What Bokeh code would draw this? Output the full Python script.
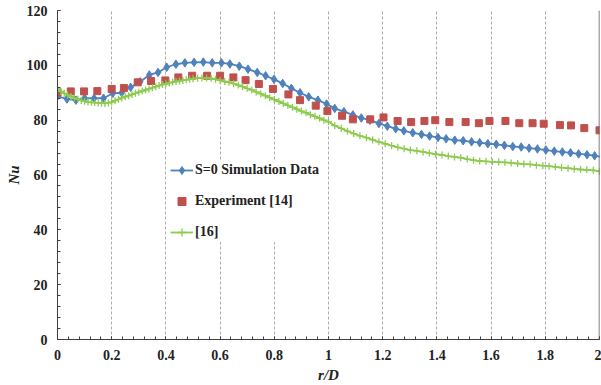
from bokeh.plotting import figure
from bokeh.models import (SingleIntervalTicker, CustomJSTickFormatter, Span,
                          Legend, LegendItem, Range1d)
from bokeh.embed import file_html
from bokeh.resources import INLINE

# ---- data -------------------------------------------------------------
sim_r = [0, 0.035, 0.068, 0.10, 0.135, 0.17, 0.204, 0.237, 0.27, 0.305, 0.339,
         0.371, 0.403, 0.437, 0.47, 0.504, 0.538, 0.571, 0.605, 0.636, 0.671,
         0.703, 0.737, 0.768, 0.799, 0.831, 0.863, 0.895, 0.927, 0.961, 0.993,
         1.023, 1.057, 1.09, 1.121, 1.153, 1.186, 1.217, 1.248, 1.278, 1.311,
         1.343, 1.373, 1.404, 1.434, 1.466, 1.497, 1.528, 1.558, 1.588, 1.619,
         1.649, 1.68, 1.711, 1.74, 1.771, 1.802, 1.833, 1.863, 1.893, 1.923,
         1.954, 1.982, 2.012]
sim_nu = [88.8, 87.7, 87.3, 88.0, 88.0, 88.0, 89.8, 90.0, 92.0, 94.0, 96.5,
          97.4, 99.3, 100.4, 100.9, 101.1, 101.2, 100.9, 100.9, 100.5, 99.7,
          98.6, 97.4, 96.2, 94.9, 93.4, 91.6, 90.0, 88.5, 87.3, 85.9,
          84.3, 83.1, 81.9, 80.8, 80.0, 78.8, 77.8, 76.9, 76.1, 75.4,
          74.8, 74.2, 73.7, 73.2, 72.7, 72.5, 72.1, 71.8, 71.4, 71.2,
          70.8, 70.4, 70.2, 69.8, 69.5, 69.1, 68.7, 68.4, 68.1, 67.7,
          67.4, 67.0, 66.6]

exp_r = [0, 0.049, 0.098, 0.147, 0.2, 0.245, 0.296, 0.345, 0.398, 0.446, 0.497,
         0.552, 0.6, 0.649, 0.694, 0.743, 0.795, 0.852, 0.895, 0.953, 0.996,
         1.05, 1.09, 1.154, 1.203, 1.255, 1.305, 1.354, 1.394, 1.446, 1.506,
         1.555, 1.594, 1.653, 1.704, 1.753, 1.794, 1.854, 1.895, 1.944, 2.0]
exp_nu = [90.1, 90.5, 90.5, 90.6, 91.4, 91.7, 93.8, 94.3, 94.5, 95.6, 96.2,
          96.2, 96.2, 95.6, 94.6, 93.2, 91.4, 89.4, 87.3, 85.3, 83.3,
          81.6, 80.3, 80.3, 81.0, 79.7, 79.3, 79.7, 80.0, 79.3, 79.3,
          78.9, 79.7, 79.7, 78.9, 78.9, 78.7, 78.2, 78.1, 77.1, 76.3]

ref_r = [0, 0.0125, 0.025, 0.0375, 0.05, 0.0625, 0.075, 0.0875, 0.1, 0.1125,
         0.125, 0.1375, 0.15, 0.1625, 0.175, 0.1875, 0.2, 0.2125, 0.225, 0.2375,
         0.25, 0.2625, 0.275, 0.2875, 0.3, 0.3125, 0.325, 0.3375, 0.35, 0.3625,
         0.375, 0.3875, 0.4, 0.4125, 0.425, 0.4375, 0.45, 0.4625, 0.475, 0.4875,
         0.5, 0.517, 0.533, 0.55, 0.567, 0.583, 0.6, 0.617, 0.633, 0.65, 0.667,
         0.683, 0.7, 0.717, 0.733, 0.75, 0.767, 0.783, 0.8, 0.817, 0.833, 0.85,
         0.867, 0.883, 0.9, 0.917, 0.933, 0.95, 0.967, 0.983, 1.0,
         1.023, 1.047, 1.07, 1.093, 1.116, 1.14, 1.163, 1.186, 1.209, 1.233,
         1.256, 1.279, 1.302, 1.326, 1.349, 1.372, 1.395, 1.419, 1.442, 1.465,
         1.488, 1.512, 1.535, 1.558, 1.581, 1.605, 1.628, 1.651, 1.674, 1.698,
         1.721, 1.744, 1.767, 1.791, 1.814, 1.837, 1.86, 1.884, 1.907, 1.93,
         1.953, 1.977, 2.0]
ref_nu = [91.2, 90.5, 89.8, 89.2, 88.6, 88.1, 87.6, 87.2, 86.9, 86.6,
          86.5, 86.4, 86.3, 86.2, 86.1, 86.3, 86.6, 87.1, 87.6, 88.1,
          88.5, 88.9, 89.4, 89.8, 90.2, 90.6, 91.0, 91.4, 91.8, 92.2,
          92.6, 93.0, 93.3, 93.6, 93.9, 94.1, 94.3, 94.5, 94.7, 94.9,
          95.1, 95.3, 95.4, 95.4, 95.2, 94.9, 94.5, 94.1, 93.8, 93.3, 92.8,
          92.2, 91.6, 91.0, 90.3, 89.6, 88.9, 88.2, 87.5, 86.8, 86.1, 85.4,
          84.7, 84.0, 83.3, 82.7, 82.0, 81.4, 80.7, 80.0, 79.4,
          78.0, 77.0, 76.0, 75.1, 74.3, 73.6, 72.8, 72.1, 71.4, 70.7,
          70.1, 69.6, 69.1, 68.8, 68.4, 68.0, 67.6, 67.3, 66.9, 66.6,
          66.3, 65.8, 65.4, 65.1, 65.0, 64.8, 64.7, 64.6, 64.4, 64.2,
          64.0, 63.9, 63.6, 63.4, 63.2, 63.0, 62.7, 62.5, 62.2, 62.0,
          61.9, 61.7, 61.3]

labels = ["S=0 Simulation Data", "Experiment [14]", "[16]"]
x_title = "r/D"
y_title = "Nu"

# ---- figure -----------------------------------------------------------
FONT = "Liberation Serif"
BLUE = "#4F81BD"
RED = "#C0504D"
GREEN = "#8DCB4F"

p = figure(width=601, height=385, x_range=Range1d(0, 2), y_range=Range1d(0, 120),
           output_backend="svg", toolbar_location=None,
           min_border_left=57, min_border_right=2, min_border_top=10,
           min_border_bottom=46)
p.outline_line_color = None
p.background_fill_color = "white"

p.xaxis.ticker = SingleIntervalTicker(interval=0.2, num_minor_ticks=5)
p.yaxis.ticker = SingleIntervalTicker(interval=20, num_minor_ticks=5)
p.xaxis.formatter = CustomJSTickFormatter(
    code="return (Math.round(tick*10)/10).toString();")

for ax in (p.xaxis, p.yaxis):
    ax.axis_line_color = "#404040"
    ax.major_tick_line_color = "#404040"
    ax.minor_tick_line_color = "#404040"
    ax.major_tick_in = 3
    ax.major_tick_out = 0
    ax.minor_tick_in = 3
    ax.minor_tick_out = 0
    ax.major_label_text_font = FONT
    ax.major_label_text_font_style = "bold"
    ax.major_label_text_font_size = "14px"
    ax.major_label_text_color = "#222222"
    ax.axis_label_text_font = FONT
    ax.axis_label_text_font_style = "bold italic"
    ax.axis_label_text_font_size = "15px"
    ax.axis_label_text_color = "#222222"

p.xaxis.axis_label = x_title
p.yaxis.axis_label = y_title
p.xaxis.major_label_standoff = 10
p.yaxis.major_label_standoff = 10
p.xaxis.axis_label_standoff = 4
p.yaxis.axis_label_standoff = 2

p.ygrid.grid_line_color = None
p.xgrid.grid_line_color = "#ABABAB"
p.xgrid.grid_line_dash = "3 2"
p.xgrid.grid_line_width = 1

p.add_layout(Span(location=2, dimension="height", line_color="#555555",
                  line_width=1.5))

bl = p.line(sim_r, sim_nu, line_color=BLUE, line_width=1.8)
bm = p.scatter(sim_r, sim_nu, marker="diamond", size=8.5, fill_color=BLUE,
               line_color=BLUE)
rm = p.scatter(exp_r, exp_nu, marker="square", size=7, fill_color=RED,
               line_color=RED)
gl = p.line(ref_r, ref_nu, line_color=GREEN, line_width=1.8)
gm = p.scatter(ref_r, ref_nu, marker="cross", size=7, line_color=GREEN,
               line_width=1.3)

legend = Legend(items=[LegendItem(label=labels[0], renderers=[bl, bm]),
                       LegendItem(label=labels[1], renderers=[rm]),
                       LegendItem(label=labels[2], renderers=[gl, gm])],
                location=(113, 97))
legend.border_line_color = None
legend.background_fill_color = "white"
legend.background_fill_alpha = 1
legend.padding = 4
legend.margin = 0
legend.spacing = 11
legend.glyph_width = 23
legend.glyph_height = 20
legend.label_height = 20
legend.label_standoff = 2
legend.label_text_font = FONT
legend.label_text_font_style = "bold"
legend.label_text_font_size = "14px"
legend.label_text_color = "#222222"
p.add_layout(legend)

open("out.html", "w").write(file_html(p, INLINE))
